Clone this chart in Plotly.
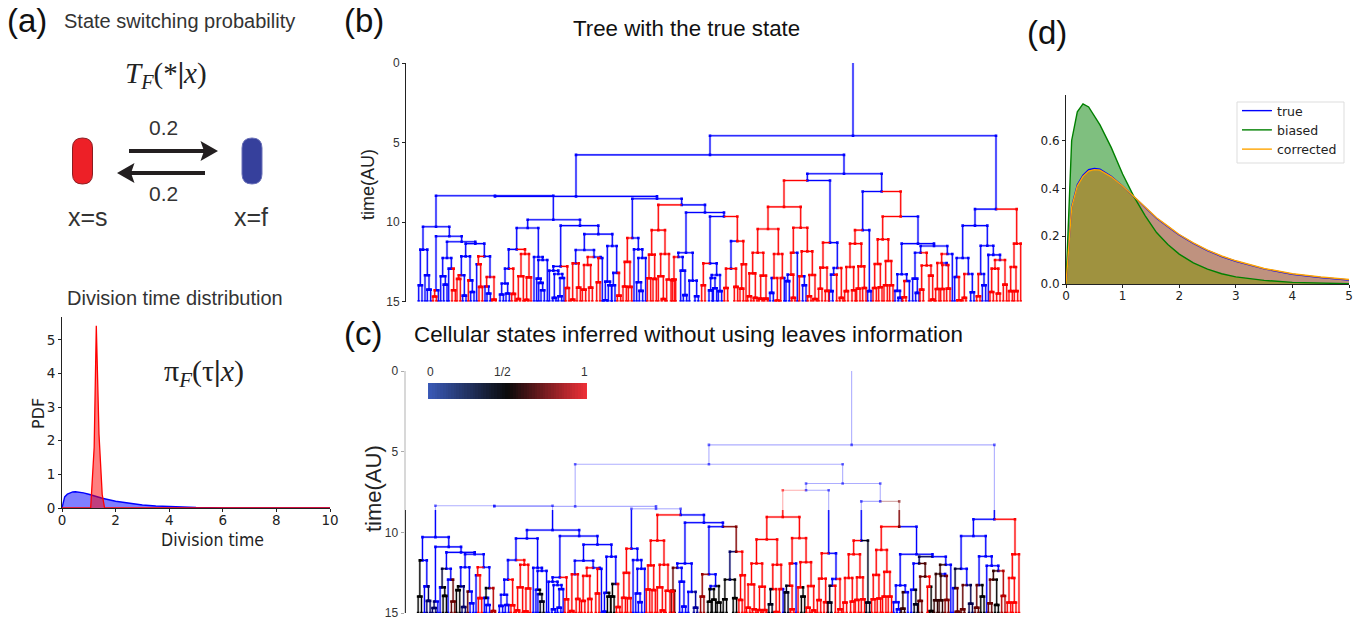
import plotly.graph_objects as go

W, H = 1366, 622
def PX(p): return p / W
def PY(p): return 1 - p / H

# ---- division time distribution (a) ----
A_BLUE_X = [0, .1, .2, .3, .4, .5, .6, .8, 1, 1.2, 1.5, 2, 2.5, 3, 3.5, 4, 4.5, 5, 6, 7, 8, 10]
A_BLUE_Y = [0, .33, .41, .455, .478, .485, .48, .45, .41, .365, .29, .2, .135, .09, .058, .037, .023, .015, .005, .002, .0005, 0]
A_RED_X = [0, 1.07, 1.2, 1.28, 1.38, 1.5, 1.59, 2, 10]
A_RED_Y = [0, 0, 1.8, 5.42, 2.2, .4, 0, 0, 0]

# ---- estimated distributions (d) ----
D_X = [0, .1, .2, .3, .4, .5, .6, .8, 1, 1.2, 1.4, 1.6, 1.8, 2, 2.25, 2.5, 2.75, 3, 3.5, 4, 4.5, 5]
D_TRUE = [0, .324, .415, .455, .478, .483, .48, .45, .41, .365, .32, .275, .24, .205, .17, .14, .115, .095, .063, .041, .027, .017]
D_BIASED = [0, .6, .72, .753, .74, .705, .665, .57, .46, .365, .285, .215, .165, .125, .088, .062, .043, .03, .015, .007, .003, .001]
D_CORRECTED = [0, .32, .41, .45, .472, .478, .476, .448, .41, .367, .322, .277, .242, .207, .172, .142, .117, .097, .065, .043, .029, .019]

# ---- lineage tree: [position, split time, true state, (inferred prob), children...] ----
# no children and time < 15: a terminal pair of cells; time 15: a single leaf
CLADE_A = [258, 10.30, 0,
  [219, 11.74, 0,
    [211, 13.98, 0, 0.5],
    [232, 13.35, 0, [225, 15, 0], [237, 14.25, 0, 0.3]]],
  [298, 10.90, 0,
    [258, 14.29, 0, [254, 14.69, 1, 0.3], [265, 15, 0]],
    [335, 11.24, 0,
      [291, 12.26, 0,
        [278, 13.41, 0, 0.4, [272, 15, 0], [286, 13.94, 0, 0.5]],
        [304, 12.93, 0, [296, 15, 0], [311, 14.29, 1, 0.7]]],
      [376, 11.36, 0,
        [347, 12.16, 0,
          [334, 13.35, 0, [326, 13.58, 1, 0.5], [343, 14.63, 0, 0.3]],
          [360, 13.67, 0, [355, 15, 1, 0.7], [367, 14.4, 0]]],
        [403, 12.16, 0,
          [385, 12.66, 1, [380, 15, 0], [392, 14.08, 1]],
          [420, 13.46, 0,
            [410, 14.06, 1, 0.5, [405, 15, 0], [416, 14.5, 0]],
            [432, 14.88, 1, 0.85]]]]]]]

CLADE_B = [610, 9.86, 0,
  [533, 10.38, 0,
    [500, 11.72, 0,
      [476, 12.93, 0,
        [465, 13.87, 0, [455, 14.56, 0], [473, 14.5, 0]],
        [490, 14.52, 1]],
      [525, 12.01, 1,
        [513, 13.41, 1, [505, 14.84, 1], [520, 15, 1]],
        [537, 13.48, 1, [530, 14.9, 1], [543, 15, 1]]]],
    [565, 12.2, 0,
      [552, 15, 0],
      [578, 12.39, 0,
        [565, 13.56, 0, [560, 15, 0], [572, 13.83, 0, 0.5, [566, 15, 0], [578, 14.29, 0, 0.45]]],
        [592, 15, 0]]]],
  [690, 10.23, 0,
    [632, 12.79, 0,
      [610, 13.06, 0,
        [598, 15, 0],
        [625, 13.27, 0, [613, 14.77, 0], [637, 13.52, 0, [630, 14.67, 0], [642, 15, 0]]]],
      [652, 14.15, 1]],
    [745, 10.76, 0,
      [703, 11.76, 0,
        [677, 12.6, 0, [668, 14.88, 1], [686, 14.13, 1]],
        [732, 12.2, 0,
          [713, 12.7, 1, [702, 14.25, 1], [722, 14.13, 1]],
          [752, 12.26, 0, [745, 13.79, 1], [757, 15, 0]]]],
      [787, 11.51, 0,
        [772, 13.75, 0, [766, 14.92, 0], [780, 13.98, 0, 0.5]],
        [800, 13.2, 0, [790, 13.98, 0, 0.5], [807, 14.63, 1]]]]]]

CLADE_C = [847, 11.01, 0,
  [832, 12.51, 1, [824, 14.06, 1], [840, 14.08, 1]],
  [865, 11.72, 0,
    [852, 15, 0],
    [877, 12.26, 0,
      [865, 13.79, 0, [860, 15, 0], [873, 14.33, 0]],
      [887, 15, 0]]]]

CLADE_D = [925, 10.51, 1,
  [905, 12.05, 1, [897, 13.54, 1], [914, 13.58, 1]],
  [945, 12.01, 1,
    [932, 13.41, 1, [925, 15, 1], [940, 14.84, 1]],
    [957, 13.62, 1, [950, 15, 1], [968, 13.66, 1]]]]

CLADE_E = [1008, 11.93, 0,
  [985, 12.2, 0, [972, 13.62, 1, 0.7], [998, 13.06, 0, [992, 15, 0], [1005, 14.6, 0]]],
  [1028, 13.69, 0, [1018, 15, 0], [1040, 14.67, 0, 0.2]]]

CLADE_F = [1122, 9.65, 0,
  [1080, 12.6, 0,
    [1060, 13.98, 1, 0.8],
    [1100, 13.33, 0,
      [1085, 13.52, 0, [1082, 14.3, 0, 0.5], [1095, 14.17, 0, 0.5]],
      [1110, 14.35, 0, 0.5]]],
  [1162, 11.2, 1, 0.75,
    [1143, 12.93, 0, 0.3, [1128, 14.15, 1, 0.5], [1158, 14.08, 1, 0.5]],
    [1180, 12.66, 1, [1175, 14.19, 1], [1188, 15, 1]]]]

CLADE_G = [1302, 9.05, 1,
  [1254, 10.44, 1,
    [1223, 11.93, 1,
      [1208, 13.23, 1, [1198, 14.67, 1], [1216, 14.77, 1]],
      [1240, 13.37, 1, [1232, 14.82, 1], [1248, 14.82, 1]]],
    [1285, 12.01, 1,
      [1272, 13.52, 1, [1265, 14.46, 0, 0.45], [1282, 14.94, 1]],
      [1297, 13.52, 1, [1292, 15, 1], [1303, 15, 0]]]],
  [1352, 10.36, 1,
    [1330, 11.93, 1,
      [1323, 13.31, 1, [1313, 13.72, 0, 0.45], [1330, 14.77, 1]],
      [1342, 15, 0]],
    [1372, 11.85, 1,
      [1355, 13.41, 1, [1348, 15, 1], [1363, 13.98, 0, 0.5]],
      [1387, 13.33, 1, [1378, 14.67, 1], [1395, 14.84, 1]]]]]

CLADE_H = [1440, 11.3, 0,
  [1419, 12.87, 1, [1411, 14.2, 1], [1431, 14.33, 1]],
  [1462, 12.89, 0,
    [1451, 13.31, 0, [1443, 14.35, 0, 0.45], [1460, 15, 1]],
    [1474, 14.77, 1]]]

CLADE_I = [1538, 10.51, 0,
  [1515, 11.36, 1,
    [1500, 12.83, 1, [1489, 14.35, 1], [1511, 14.29, 1]],
    [1534, 12.79, 1, [1525, 14.19, 1], [1543, 14.15, 1]]],
  [1558, 14.35, 0, 0.45]]

CLADE_J = [1598, 11.09, 1,
  [1583, 12.64, 1, [1574, 14.15, 1], [1591, 14.1, 1]],
  [1615, 12.45, 1, [1607, 13.98, 1], [1624, 13.98, 1]]]

CLADE_K = [1704, 11.36, 0,
  [1655, 13.29, 0,
    [1642, 14.33, 0, [1635, 15, 0], [1650, 14.77, 0]],
    [1670, 13.71, 0, [1663, 14.73, 1, 0.6], [1678, 15, 0]]],
  [1752, 11.51, 0,
    [1712, 11.93, 0, 0.35,
      [1695, 13.56, 0, [1688, 15, 0], [1702, 14.46, 0, 0.45]],
      [1730, 12.74, 1, 0.65,
        [1715, 14.25, 1, 0.7],
        [1743, 13.37, 1, [1737, 15, 1], [1748, 14.88, 1, 0.5]]]],
    [1792, 12.01, 0,
      [1775, 12.58, 1, 0.6,
        [1762, 14.21, 1, 0.6],
        [1790, 12.7, 0, [1777, 14.21, 1, 0.6], [1795, 14.19, 1, 0.75]]],
      [1807, 15, 0]]]]

CLADE_L = [1875, 10.23, 0,
  [1838, 12.26, 0,
    [1820, 13.46, 0, 0.4, [1814, 15, 0], [1827, 14.92, 1, 0.7]],
    [1855, 13.27, 0, [1843, 14.77, 1, 0.7], [1867, 14.42, 0, 0.35]]],
  [1912, 11.49, 0,
    [1892, 13.27, 0, [1885, 14.67, 1, 0.7], [1902, 13.98, 0, 0.5]],
    [1930, 12.07, 0,
      [1915, 15, 0],
      [1950, 12.39, 0,
        [1935, 12.93, 1, 0.6, [1925, 14.4, 1, 0.7], [1945, 14.5, 1, 0.5]],
        [1965, 13.94, 1, 0.85]]]]]

CLADE_M = [2000, 11.36, 1,
  [1992, 12.83, 1, [1982, 14.35, 1], [1998, 14.35, 1]],
  [2012, 15, 1]]

TREE = [1509, 4.58, 0,
  [1080, 5.78, 0,
    [678, 8.39, 0,
      [435, 8.35, 0, CLADE_A, CLADE_B],
      [921, 8.54, 0, CLADE_C,
        [995, 8.92, 0, CLADE_D,
          [1065, 9.40, 0, CLADE_E, CLADE_F]]]],
    [1482, 6.97, 0,
      [1372, 7.39, 0, CLADE_G, CLADE_H],
      [1595, 8.08, 0, CLADE_I,
        [1652, 9.65, 1, 0.75, CLADE_J, CLADE_K]]]],
  [1938, 9.19, 0, CLADE_L, CLADE_M]]

FAINT_UNTIL = 8.62   # panel (c): everything earlier than this time is drawn faint
TIME_TICKS = [0, 5, 10, 15]
GRADIENT = [i / 59 for i in range(60)]
ARROW_LABEL = "0.2"

PAIR_HALF = 5

def parse(n):
    u, t, s = n[0], n[1], n[2]
    p = s
    kids = []
    for e in n[3:]:
        if isinstance(e, list):
            kids.append(e)
        else:
            p = e
    return u, t, s, p, kids

def prob_color(p):
    if p <= .5:
        v = int(round(255 * (1 - p / .5)))
        return (0, 0, v)
    v = int(round(255 * (p - .5) / .5))
    return (v, 0, 0)

def bucket(groups, rgb, faint):
    return groups.setdefault((rgb, faint), dict(x=[], y=[], mx=[], my=[]))

def collect(node, use_prob, groups, parent=None):
    u, t, s, p, kids = parse(node)
    rgb = prob_color(p if use_prob else s)
    t0 = parent[1] if parent else 0
    limit = FAINT_UNTIL if use_prob else -1
    sol = bucket(groups, rgb, False)
    fnt = bucket(groups, rgb, True)
    if t0 < limit:
        fnt["x"] += [u, u, None]
        fnt["y"] += [t0, min(t, limit), None]
        if t > limit:
            sol["x"] += [u, u, None]
            sol["y"] += [limit, t, None]
    else:
        sol["x"] += [u, u, None]
        sol["y"] += [t0, t, None]
    own = fnt if t < limit else sol
    own["mx"].append(u)
    own["my"].append(t)
    if parent:
        par = fnt if t0 < limit else sol
        par["x"] += [parent[0], u, None]
        par["y"] += [t0, t0, None]
        par["mx"].append(u)
        par["my"].append(t0)
    if t < 15 and not kids:
        sol["x"] += [u - PAIR_HALF, u + PAIR_HALF, None, u - PAIR_HALF, u - PAIR_HALF, None, u + PAIR_HALF, u + PAIR_HALF, None]
        sol["y"] += [t, t, None, t, 15, None, t, 15, None]
        sol["mx"] += [u - PAIR_HALF, u + PAIR_HALF, u - PAIR_HALF, u + PAIR_HALF]
        sol["my"] += [t, t, 15, 15]
    for k in kids:
        collect(k, use_prob, groups, (u, t))

fig = go.Figure()

def add_tree(use_prob, xa, ya, halo):
    groups = {}
    collect(TREE, use_prob, groups)
    for (rgb, faint), g in groups.items():
        if not g["x"] and not g["mx"]:
            continue
        col = "rgba(%d,%d,%d,%s)"
        a = .32 if faint else 1
        if not faint:
            fig.add_trace(go.Scatter(x=g["x"], y=g["y"], mode="lines", xaxis=xa, yaxis=ya, showlegend=False,
                                     hoverinfo="skip", line=dict(color=col % (*rgb, .28), width=halo)))
        fig.add_trace(go.Scatter(x=g["x"], y=g["y"], mode="lines", xaxis=xa, yaxis=ya, showlegend=False,
                                 hoverinfo="skip", line=dict(color=col % (*rgb, a), width=1.1)))
        fig.add_trace(go.Scatter(x=g["mx"], y=g["my"], mode="markers", xaxis=xa, yaxis=ya, showlegend=False,
                                 hoverinfo="skip", marker=dict(color=col % (*rgb, max(a, .6)), size=2.6, symbol="square", line=dict(width=0))))

add_tree(False, "x3", "y3", 2.4)
add_tree(True, "x4", "y4", 2.4)

# panel (a) curves
fig.add_trace(go.Scatter(x=A_BLUE_X, y=A_BLUE_Y, mode="lines", fill="tozeroy", fillcolor="rgba(0,0,255,.5)",
                         line=dict(color="#0000ff", width=1.4), xaxis="x", yaxis="y", showlegend=False, hoverinfo="skip"))
fig.add_trace(go.Scatter(x=A_RED_X, y=A_RED_Y, mode="lines", fill="tozeroy", fillcolor="rgba(255,0,0,.5)",
                         line=dict(color="#ff0000", width=1.3), xaxis="x", yaxis="y", showlegend=False, hoverinfo="skip"))

# panel (d) fills, then lines
for ys, c in [(D_TRUE, "rgba(0,0,255,.5)"), (D_BIASED, "rgba(0,128,0,.5)"), (D_CORRECTED, "rgba(255,165,0,.5)")]:
    fig.add_trace(go.Scatter(x=D_X, y=ys, mode="lines", fill="tozeroy", fillcolor=c, line=dict(width=0),
                             xaxis="x2", yaxis="y2", showlegend=False, hoverinfo="skip"))
for ys, c, name in [(D_TRUE, "#0000ff", "true"), (D_BIASED, "#008000", "biased"), (D_CORRECTED, "#ffa500", "corrected")]:
    fig.add_trace(go.Scatter(x=D_X, y=ys, mode="lines", name=name, line=dict(color=c, width=1.4),
                             xaxis="x2", yaxis="y2", hoverinfo="skip"))

# colour key in panel (c)
fig.add_trace(go.Heatmap(z=[GRADIENT], x=GRADIENT, y=[0], xaxis="x5", yaxis="y5", showscale=False, hoverinfo="skip",
                         colorscale=[[0, "#3a5ab8"], [.5, "#0a0a0a"], [1, "#f03038"]]))

def dom(a, b, total):
    return [a / total, b / total]

mpl_font = dict(family="DejaVu Sans", size=13.5, color="#222")
d_font = dict(family="DejaVu Sans", size=12, color="#222")
arial = "Liberation Sans"
tree_font = dict(family=arial, size=12, color="#333")
layout = dict(
    width=W, height=H, margin=dict(l=0, r=0, t=0, b=0), paper_bgcolor="white", plot_bgcolor="rgba(0,0,0,0)",
    xaxis=dict(domain=dom(62, 330, W), range=[0, 10], tickvals=[0, 2, 4, 6, 8, 10], showgrid=False, zeroline=False,
               showline=True, linecolor="#222", linewidth=1, ticks="outside", ticklen=3, tickcolor="#222", tickfont=mpl_font,
               ticklabelstandoff=-3, anchor="y"),
    yaxis=dict(domain=[PY(508), PY(317)], range=[0, 5.68], tickvals=[0, 1, 2, 3, 4, 5], showgrid=False, zeroline=False,
               showline=True, linecolor="#222", linewidth=1, ticks="outside", ticklen=3, tickcolor="#222", tickfont=mpl_font,
               anchor="x"),
    xaxis2=dict(domain=dom(1066, 1349, W), range=[0, 5], tickvals=[0, 1, 2, 3, 4, 5], showgrid=False, zeroline=False,
                showline=True, linecolor="#222", linewidth=1, ticks="outside", ticklen=3, tickcolor="#222",
                tickfont=d_font, ticklabelstandoff=-2, anchor="y2"),
    yaxis2=dict(domain=[PY(284), PY(95)], range=[0, .79], tickvals=[0, .2, .4, .6], ticktext=["0.0", "0.2", "0.4", "0.6"],
                showgrid=False, zeroline=False, showline=True, linecolor="#222", linewidth=1, ticks="outside", ticklen=3,
                tickcolor="#222", tickfont=d_font, anchor="x2"),
    xaxis3=dict(domain=dom(406, 1030, W), range=[168, 2040], visible=False, anchor="y3"),
    yaxis3=dict(domain=[PY(301.5), PY(63)], range=[15, 0], tickvals=TIME_TICKS, showgrid=False, zeroline=False,
                showline=True, linecolor="#222", linewidth=1, ticks="outside", ticklen=3, tickcolor="#222", tickfont=tree_font,
                anchor="x3"),
    xaxis4=dict(domain=dom(405.5, 1028.3, W), range=[168, 2040], visible=False, anchor="y4"),
    yaxis4=dict(domain=[PY(613), PY(371)], range=[15, 0], tickvals=TIME_TICKS, showgrid=False, zeroline=False,
                showline=True, linecolor="#d8d8d8", linewidth=2, ticks="outside", ticklen=3, tickcolor="#aaa", tickfont=tree_font,
                anchor="x4"),
    xaxis5=dict(domain=dom(428, 587, W), range=[0, 1], visible=False, anchor="y5"),
    yaxis5=dict(domain=[PY(399), PY(383)], visible=False, anchor="x5"),
    legend=dict(x=PX(1237), y=PY(96), xanchor="left", yanchor="top", bgcolor="rgba(255,255,255,0)",
                borderwidth=0, font=dict(family="DejaVu Sans", size=12.5, color="#222"),
                tracegroupgap=0, itemwidth=30),
    font=dict(family=arial),
)
fig.update_layout(**layout)
fig.update_xaxes(automargin=False)
fig.update_yaxes(automargin=False)

def note(text, x, y, size, family=arial, color="#222", anchor="center", angle=0):
    fig.add_annotation(text=text, x=PX(x), y=PY(y), xref="paper", yref="paper", showarrow=False, xanchor=anchor,
                       yanchor="middle", textangle=angle, font=dict(family=family, size=size, color=color))

serif = "Liberation Serif"
note("(a)", 5, 20, 33, color="#111", anchor="left")
note("(b)", 342, 21, 33, color="#111", anchor="left")
note("(c)", 342, 333, 33, color="#111", anchor="left")
note("(d)", 1025, 32, 33, color="#111", anchor="left")
note("State switching probability", 62, 21, 20, color="#333", anchor="left")
note("Division time distribution", 65, 298, 20, color="#333", anchor="left")
note("Tree with the true state", 687, 29, 22.3, color="#111")
note("Cellular states inferred without using leaves information", 688, 335, 22.4, color="#111")
note("time(AU)", 368, 185, 18, color="#222", angle=-90)
note("time(AU)", 373, 489, 22, color="#222", angle=-90)
note("<i>T</i><sub><i>F</i></sub>(*<b>|</b><i>x</i>)", 166, 75, 29, family=serif, color="#222")
note("π<sub><i>F</i></sub>(τ<b>|</b><i>x</i>)", 204, 373, 30, family=serif, color="#222")
note(ARROW_LABEL, 163, 127, 21, color="#333")
note(ARROW_LABEL, 163, 193, 21, color="#333")
note("x=s", 88, 217, 25, color="#333")
note("x=f", 251, 217, 25, color="#333")
note("0", 430, 372, 12, color="#333")
note("1/2", 502, 372, 12, color="#333")
note("1", 584, 372, 12, color="#333")
note("PDF", 38, 414, 16, family="DejaVu Sans", color="#222", angle=-90)
note("Division time", 212, 540, 17.5, family="DejaVu Sans Condensed, Liberation Sans", color="#222")

def pill(x0, x1, y0, y1, fill, edge):
    r = (x1 - x0) / 2
    path = (f"M {PX(x0)} {PY(y0 + r)} Q {PX(x0)} {PY(y0)} {PX(x0 + r)} {PY(y0)} "
            f"Q {PX(x1)} {PY(y0)} {PX(x1)} {PY(y0 + r)} L {PX(x1)} {PY(y1 - r)} "
            f"Q {PX(x1)} {PY(y1)} {PX(x1 - r)} {PY(y1)} Q {PX(x0)} {PY(y1)} {PX(x0)} {PY(y1 - r)} Z")
    fig.add_shape(type="path", path=path, xref="paper", yref="paper", fillcolor=fill, line=dict(color=edge, width=1))

def arrow(x0, xbase, xtip, y, half):
    fig.add_shape(type="line", x0=PX(x0), x1=PX(xbase), y0=PY(y), y1=PY(y), xref="paper", yref="paper",
                  line=dict(color="#231f20", width=4))
    back = xbase - (xtip - xbase) * .25
    path = (f"M {PX(back)} {PY(y - half)} L {PX(xtip)} {PY(y)} "
            f"L {PX(back)} {PY(y + half)} L {PX(xbase)} {PY(y)} Z")
    fig.add_shape(type="path", path=path, xref="paper", yref="paper", fillcolor="#231f20", line=dict(width=0))

pill(72.5, 92.5, 138, 184, "#ed2027", "#8a1c20")
pill(242, 262, 138, 184, "#36409c", "#6a70b8")
arrow(129, 204, 218, 151, 10)
arrow(205, 131, 117, 173, 10)

# darker lower part of the time axis in panel (c)
fig.add_shape(type="line", x0=PX(405.5), x1=PX(405.5), y0=PY(510), y1=PY(613), xref="paper", yref="paper",
              line=dict(color="#333", width=1))
# legend frame of panel (d)
fig.add_shape(type="rect", x0=PX(1237), x1=PX(1344), y0=PY(102), y1=PY(163), xref="paper", yref="paper",
              fillcolor="white", line=dict(color="#dddddd", width=1))

fig.write_html("out.html", post_script="document.body.style.margin='0';document.body.style.overflow='hidden';",
               config=dict(displayModeBar=False))
